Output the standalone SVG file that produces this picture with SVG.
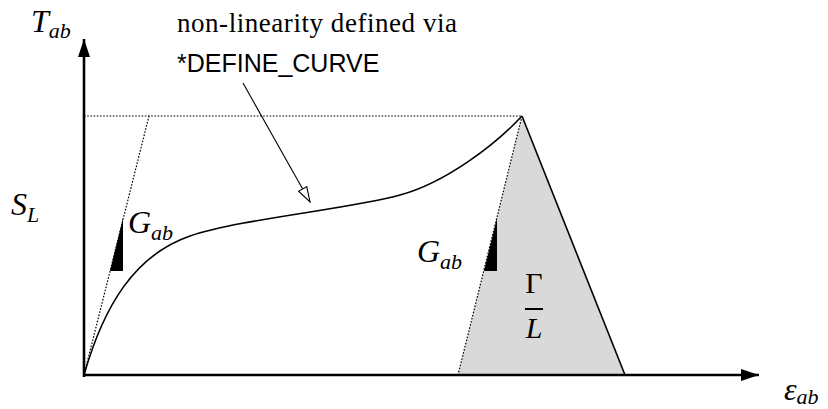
<svg xmlns="http://www.w3.org/2000/svg" width="828" height="409" viewBox="0 0 828 409">
<style>
.axis{stroke:#000;stroke-width:2.6;fill:none}
.dot{stroke:#000;stroke-width:1.2;stroke-dasharray:1.6 1.6;fill:none}
.solid{stroke:#000;stroke-width:1.6;fill:none}
.m{font-family:"Liberation Serif","DejaVu Serif",serif;font-style:italic;fill:#000}
.r{font-family:"Liberation Serif","DejaVu Serif",serif;fill:#000}
.s{font-family:"Liberation Sans","DejaVu Sans",sans-serif;fill:#000}
</style>
<defs>
<marker id="axh" viewBox="0 0 18 12" refX="18" refY="6" markerWidth="18" markerHeight="12" markerUnits="userSpaceOnUse" orient="auto">
<path d="M0,0 L18,6 L0,12 Z" fill="#000"/>
</marker>
<marker id="open" viewBox="0 0 17 11" refX="16" refY="5.5" markerWidth="17" markerHeight="11" markerUnits="userSpaceOnUse" orient="auto">
<path d="M1,0.8 L16,5.5 L1,10.2 Z" fill="#fff" stroke="#000" stroke-width="1.1"/>
</marker>
</defs>
<g id="release-region">
<polygon points="522,116 458,375 625,375" fill="#d9d9d9"/>
<line class="solid" x1="522" y1="116" x2="625" y2="375"/>
<line class="dot" x1="522" y1="116" x2="458" y2="375"/>
<polygon points="484,271 497,271 497,218" fill="#000"/>
</g>
<g id="guides">
<line class="dot" x1="84" y1="116" x2="522" y2="116"/>
<line class="dot" x1="84" y1="375" x2="149" y2="116"/>
<polygon points="110,271 123,271 123,218" fill="#000"/>
</g>
<g id="curve">
<path class="solid" d="M84,375 C104,305 135,255 190,236 C240,219 350,209 400,195 C445,183 495,145 522,116"/>
</g>
<g id="axes">
<line class="axis" x1="84" y1="377" x2="84" y2="39" marker-end="url(#axh)"/>
<line class="axis" x1="83" y1="375" x2="759" y2="375" marker-end="url(#axh)"/>
</g>
<g id="connectors">
<line x1="243" y1="83" x2="310" y2="202" stroke="#000" stroke-width="1.1" marker-end="url(#open)"/>
</g>
<g id="labels">
<text class="r" x="177" y="32" font-size="27" textLength="280" lengthAdjust="spacing">non-linearity defined via</text>
<text class="s" x="177" y="72" font-size="25">*DEFINE_CURVE</text>
<text class="m" x="31" y="32" font-size="32">T<tspan font-size="22" dy="6">ab</tspan></text>
<text class="m" x="11" y="215" font-size="32">S<tspan font-size="22" dy="7">L</tspan></text>
<text class="m" x="128" y="233" font-size="32">G<tspan font-size="22" dy="7">ab</tspan></text>
<text class="m" x="417" y="262" font-size="32">G<tspan font-size="22" dy="7">ab</tspan></text>
<text class="r" x="534" y="293" font-size="30" text-anchor="middle">Γ</text>
<line x1="525" y1="309" x2="543" y2="309" stroke="#000" stroke-width="2"/>
<text class="m" x="534" y="338" font-size="30" text-anchor="middle">L</text>
<text class="m" x="784" y="400" font-size="32">ε<tspan font-size="22" dy="4">ab</tspan></text>
</g>
</svg>
